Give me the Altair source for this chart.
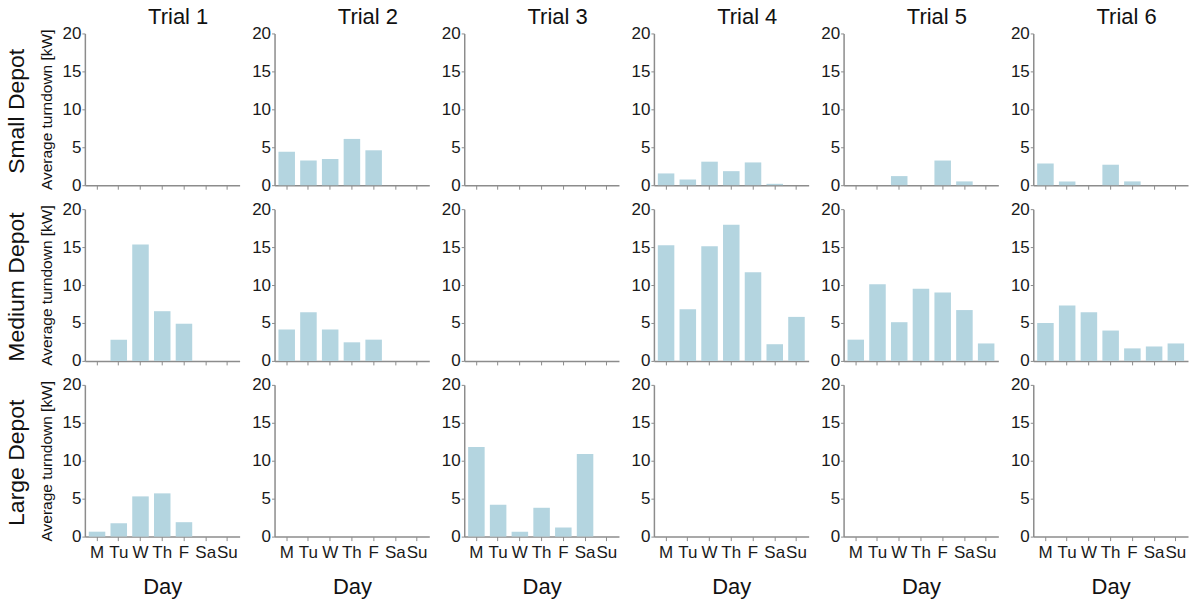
import altair as alt
import pandas as pd

FONT = "Liberation Sans"
BAR_COLOR = "#b4d5e0"
AXIS_GRAY = "#8c8c8c"

DAYS = ["M", "Tu", "W", "Th", "F", "Sa", "Su"]
TRIALS = ["Trial 1", "Trial 2", "Trial 3", "Trial 4", "Trial 5", "Trial 6"]
DEPOTS = ["Small Depot", "Medium Depot", "Large Depot"]

# Average turndown [kW] for M..Su, one list per trial
SMALL = [
    [0, 0, 0, 0, 0, 0, 0],
    [4.4, 3.25, 3.45, 6.1, 4.6, 0, 0],
    [0, 0, 0, 0, 0, 0, 0],
    [1.55, 0.75, 3.1, 1.85, 3.0, 0.18, 0],
    [0, 0, 1.2, 0, 3.25, 0.5, 0],
    [2.85, 0.5, 0, 2.7, 0.5, 0, 0],
]
MEDIUM = [
    [0, 2.8, 15.35, 6.55, 4.9, 0, 0],
    [4.15, 6.4, 4.15, 2.45, 2.8, 0, 0],
    [0, 0, 0, 0, 0, 0, 0],
    [15.25, 6.8, 15.1, 17.95, 11.7, 2.2, 5.8],
    [2.8, 10.1, 5.1, 9.5, 9.0, 6.7, 2.3],
    [5.0, 7.3, 6.4, 4.0, 1.65, 1.9, 2.3],
]
LARGE = [
    [0.65, 1.75, 5.3, 5.7, 1.9, 0, 0],
    [0, 0, 0, 0, 0, 0, 0],
    [11.8, 4.2, 0.65, 3.8, 1.2, 10.9, 0],
    [0, 0, 0, 0, 0, 0, 0],
    [0, 0, 0, 0, 0, 0, 0],
    [0, 0, 0, 0, 0, 0, 0],
]
ROWS = [SMALL, MEDIUM, LARGE]

W, H = 155, 152


def panel(values, r, c):
    df = pd.DataFrame({"Day": DAYS, "kW": values})
    bottom = r == len(ROWS) - 1
    first = c == 0

    x_axis = alt.Axis(
        title="Day" if bottom else None,
        labels=bottom,
        labelAngle=0,
        labelFontSize=17,
        labelPadding=4,
        tickSize=4,
        titleFontSize=22,
        titleFontWeight="normal",
        titlePadding=16,
    )
    y_axis = alt.Axis(
        title="Average turndown [kW]" if first else None,
        values=[0, 5, 10, 15, 20],
        labelFontSize=17,
        labelPadding=1,
        tickSize=3,
        grid=False,
        titleFontSize=15.5,
        titleFontWeight="normal",
        titlePadding=8,
    )
    bars = alt.Chart(df).mark_bar(color=BAR_COLOR).encode(
        x=alt.X("Day:N", sort=DAYS,
                scale=alt.Scale(paddingInner=0.24, paddingOuter=0.18),
                axis=x_axis),
        y=alt.Y("kW:Q", scale=alt.Scale(domain=[0, 20]), axis=y_axis),
    )
    layers = [bars]
    if first:
        depot = alt.Chart(pd.DataFrame({"depot": [DEPOTS[r]]})).mark_text(
            angle=270, fontSize=23, font=FONT, color="#111111",
            align="center", baseline="alphabetic",
        ).encode(text="depot:N", x=alt.value(-61), y=alt.value(H / 2 + 2))
        layers.append(depot)
    chart = alt.layer(*layers).properties(width=W, height=H)
    if r == 0:
        chart = chart.properties(
            title=alt.TitleParams(TRIALS[c], fontSize=22, fontWeight="normal",
                                  font=FONT, anchor="middle", frame="group",
                                  dx=16, offset=-5)
        )
    return chart


panels = [panel(ROWS[r][c], r, c) for r in range(len(ROWS)) for c in range(len(TRIALS))]

chart = alt.concat(
    *panels, columns=6, spacing={"row": 24, "column": 35}, bounds="flush"
).configure_view(
    stroke="transparent"
).configure_axis(
    labelFont=FONT, titleFont=FONT, labelColor="#1a1a1a", titleColor="#111111",
    domainColor=AXIS_GRAY, tickColor=AXIS_GRAY, domainWidth=1.5,
).configure_title(
    color="#111111"
).properties(
    background="white"
)

chart.save("out.html", embed_options={"renderer": "svg", "actions": False})
